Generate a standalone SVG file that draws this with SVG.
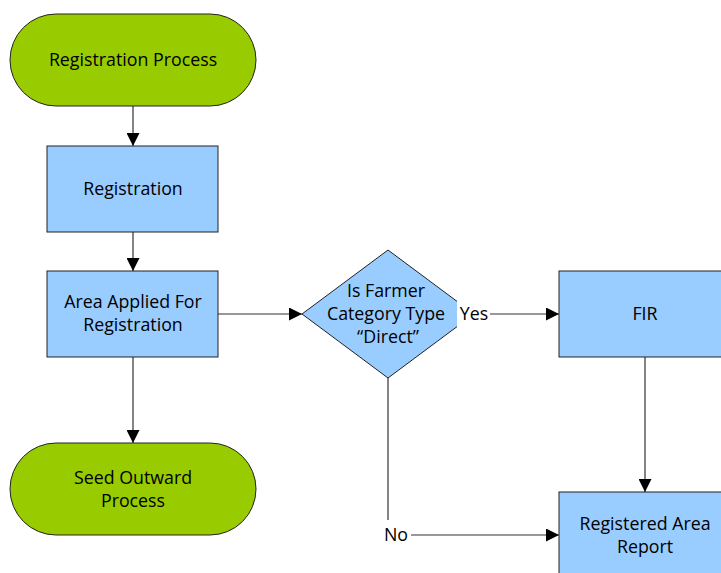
<svg xmlns="http://www.w3.org/2000/svg" width="721" height="573" viewBox="0 0 721 573">
<style>
.term{fill:#99CC00;stroke:#222;stroke-width:1}
.proc{fill:#99CCFF;stroke:#222;stroke-width:1}
.t{font-family:"Open Sans","Noto Sans",sans-serif;font-size:17.8px;fill:#000;text-anchor:middle}
.c{fill:none;stroke:#333;stroke-width:1.2}
</style>
<defs>
<marker id="ah" viewBox="0 0 10 10" refX="10" refY="5" markerWidth="13" markerHeight="13" markerUnits="userSpaceOnUse" orient="auto">
<path d="M0,0 L10,5 L0,10 z" fill="#000"/>
</marker>
</defs>
<rect width="721" height="573" fill="#fff"/>
<g id="connectors">
<line class="c" x1="133" y1="101" x2="133" y2="146" marker-end="url(#ah)"/>
<line class="c" x1="133" y1="227" x2="133" y2="271" marker-end="url(#ah)"/>
<line class="c" x1="133" y1="357" x2="133" y2="443" marker-end="url(#ah)"/>
<line class="c" x1="208" y1="314" x2="302" y2="314" marker-end="url(#ah)"/>
<line class="c" x1="490" y1="314" x2="559" y2="314" marker-end="url(#ah)"/>
<line class="c" x1="645" y1="340" x2="645" y2="492" marker-end="url(#ah)"/>
<polyline class="c" points="388,378 388,520"/>
<line class="c" x1="411" y1="535" x2="559" y2="535" marker-end="url(#ah)"/>
</g>
<g id="n-start">
<rect class="term" x="10" y="14" width="246" height="92" rx="46" ry="46"/>
<text class="t" x="133" y="66">Registration Process</text>
</g>
<g id="n-registration">
<rect class="proc" x="47" y="146" width="171" height="86"/>
<text class="t" x="133" y="195">Registration</text>
</g>
<g id="n-area">
<rect class="proc" x="47" y="271" width="171" height="86"/>
<text class="t" x="133" y="308">Area Applied For</text>
<text class="t" x="133" y="331">Registration</text>
</g>
<g id="n-seed">
<rect class="term" x="10" y="443" width="246" height="92" rx="46" ry="46"/>
<text class="t" x="133" y="484">Seed Outward</text>
<text class="t" x="133" y="507">Process</text>
</g>
<g id="n-decision">
<polygon class="proc" points="388,250 474,314 388,378 302,314"/>
<rect x="457" y="300" width="33" height="28" fill="#fff"/>
<text class="t" x="386" y="297">Is Farmer</text>
<text class="t" x="386" y="320">Category Type</text>
<text class="t" x="388" y="343">“Direct”</text>
<text class="t" x="474" y="320">Yes</text>
</g>
<g id="n-fir">
<rect class="proc" x="559" y="271" width="172" height="86"/>
<text class="t" x="645" y="320">FIR</text>
</g>
<g id="n-report">
<rect class="proc" x="559" y="492" width="172" height="100"/>
<text class="t" x="645" y="530">Registered Area</text>
<text class="t" x="645" y="553">Report</text>
</g>
<text class="t" x="396" y="541">No</text>
</svg>
